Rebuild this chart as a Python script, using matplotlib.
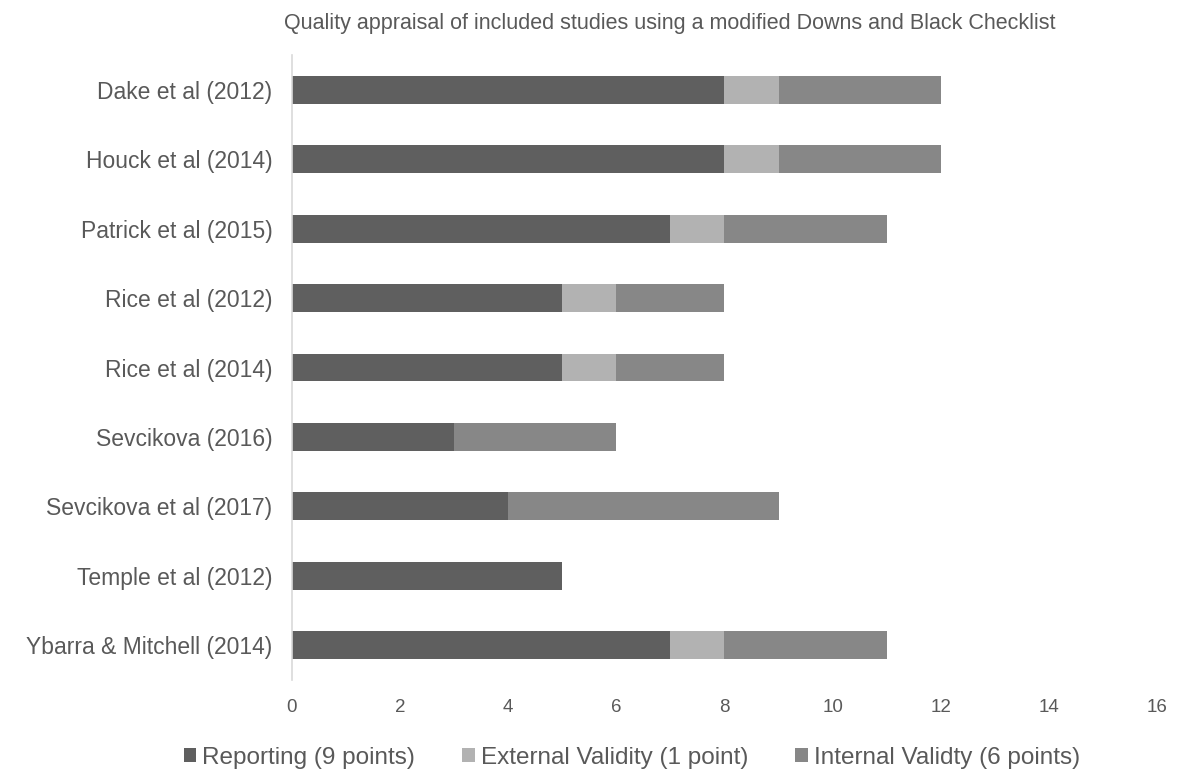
import matplotlib
matplotlib.use("Agg")
import matplotlib.pyplot as plt

studies = [
    "Dake et al (2012)",
    "Houck et al (2014)",
    "Patrick et al (2015)",
    "Rice et al (2012)",
    "Rice et al (2014)",
    "Sevcikova (2016)",
    "Sevcikova et al (2017)",
    "Temple et al (2012)",
    "Ybarra & Mitchell (2014)",
]
reporting = [8, 8, 7, 5, 5, 3, 4, 5, 7]
external_validity = [1, 1, 1, 1, 1, 0, 0, 0, 1]
internal_validity = [3, 3, 3, 2, 2, 3, 5, 0, 3]

series_names = [
    "Reporting (9 points)",
    "External Validity (1 point)",
    "Internal Validty (6 points)",
]
colors = ["#5f5f5f", "#b2b2b2", "#878787"]
text_color = "#595959"

plt.rcParams["font.family"] = ["Liberation Sans", "DejaVu Sans"]

fig = plt.figure(figsize=(11.81, 7.75), dpi=100)
ax = fig.add_axes([0.2472, 0.1226, 0.7325, 0.8064])

y = list(range(len(studies)))
left = [0] * len(studies)
for vals, name, col in zip([reporting, external_validity, internal_validity], series_names, colors):
    ax.barh(y, vals, left=left, height=0.4, color=col, label=name)
    left = [a + b for a, b in zip(left, vals)]

ax.set_ylim(len(studies) - 0.5, -0.5)
ax.set_xlim(0, 16)
ax.set_xticks(range(0, 17, 2))
ax.set_yticks(y)
ax.set_yticklabels(studies, fontsize=16.5, color=text_color)
ax.tick_params(axis="x", labelsize=13.5, colors=text_color, length=0, pad=14)
ax.tick_params(axis="y", length=0, pad=14)

for side in ["top", "right", "bottom"]:
    ax.spines[side].set_visible(False)
ax.spines["left"].set_color("#d9d9d9")
ax.spines["left"].set_linewidth(1.2)

fig.text(0.567, 0.97, "Quality appraisal of included studies using a modified Downs and Black Checklist",
         ha="center", va="center", fontsize=15.5, color=text_color)

fig.legend(loc="center", bbox_to_anchor=(0.535, 0.022), ncol=3, frameon=False,
           fontsize=17.5, labelcolor=text_color, handlelength=0.5, handleheight=0.5,
           handletextpad=0.25, columnspacing=1.95)

fig.savefig("out.png", dpi=100)
